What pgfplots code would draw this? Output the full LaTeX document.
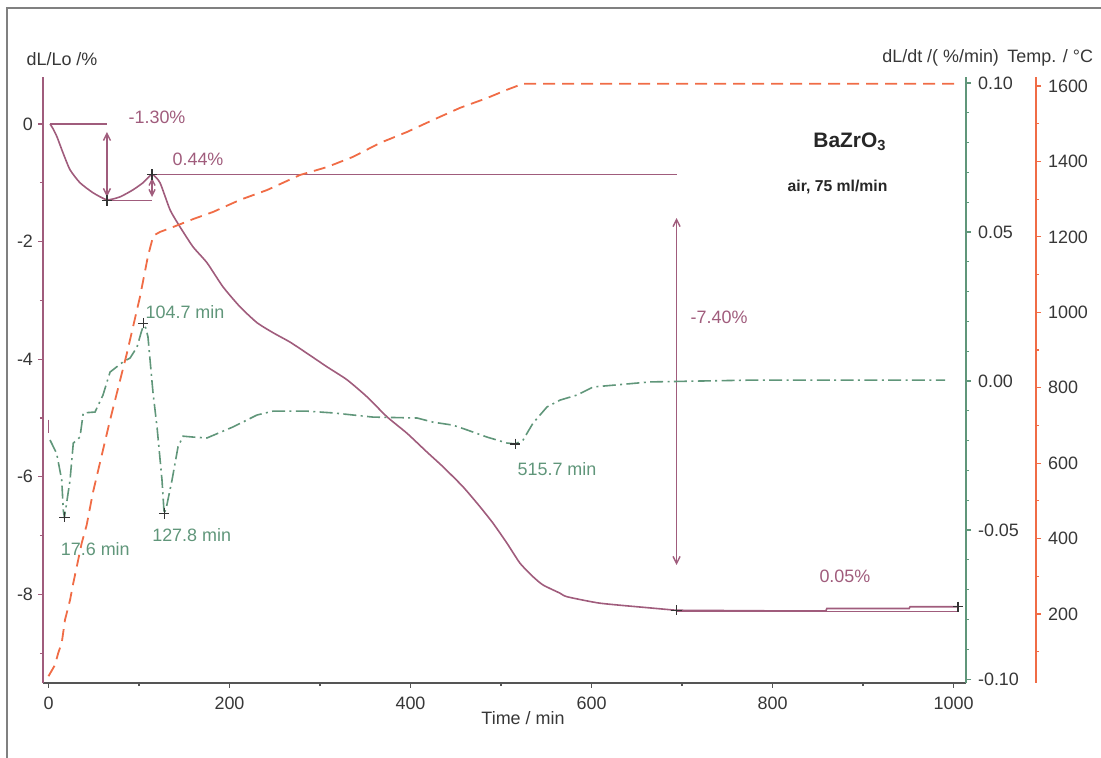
\documentclass[border=0pt]{standalone}
\usepackage{fontspec}
\setmainfont{Liberation Sans}
\usepackage{pgfplots}
\pgfplotsset{compat=1.18}
\usetikzlibrary{arrows.meta}

\definecolor{mauve}{RGB}{160,92,124}
\definecolor{dtgreen}{RGB}{96,150,122}
\definecolor{temporange}{RGB}{240,108,70}
\definecolor{axgray}{RGB}{85,85,85}
\definecolor{txt}{RGB}{55,55,55}

% pixel position of the reference -> picture coordinates (axis box lower left = pixel 43,683)
\newcommand{\px}[2]{({(#1-43)*0.5bp},{(683-#2)*0.5bp})}
\newcommand{\lbl}{\fontsize{9}{10}\selectfont}

\pgfplotstableread{
t v
1.7 0
5 -0.08
9.4 -0.22
16 -0.49
23.8 -0.78
34.8 -1.00
49.2 -1.17
64.6 -1.29
79 -1.24
93.4 -1.12
104.4 -1.00
114.4 -0.86
123.2 -1.00
134.3 -1.46
145.3 -1.75
159.7 -2.09
175.1 -2.36
192.8 -2.77
211.6 -3.11
230.4 -3.38
248.1 -3.55
266.9 -3.71
285.6 -3.90
307.7 -4.13
329.8 -4.35
351.9 -4.64
374 -4.98
396.1 -5.26
418.2 -5.58
435.9 -5.83
458 -6.17
476.8 -6.51
491.2 -6.79
506.6 -7.13
521 -7.47
535.4 -7.70
546.4 -7.84
565.2 -7.98
572.9 -8.04
609.4 -8.15
664.6 -8.23
693.4 -8.27
}\dltable

\pgfplotstableread{
t v
693.4 -8.27
799 -8.28
859 -8.28
860 -8.24
951 -8.24
952 -8.21
1005 -8.21
}\dltail

\pgfplotstableread{
t g
1.7 -0.0198
9 -0.0243
14.6 -0.0332
16.4 -0.0436
17.6 -0.0456
19.5 -0.0420
23.8 -0.0332
27.4 -0.0208
34.8 -0.0188
38.4 -0.0107
51.4 -0.0104
60.2 -0.0047
68 0.0030
82.3 0.0064
90.1 0.0077
97.8 0.0114
102.2 0.0161
104.7 0.0185
107.5 0.0178
109.9 0.0148
115.5 -0.0040
119.9 -0.0154
125.4 -0.0332
127.8 -0.0446
130.5 -0.0420
136.5 -0.0332
143.1 -0.0221
148.6 -0.0185
159.7 -0.0188
175.1 -0.0191
203.9 -0.0154
230.4 -0.0114
248.1 -0.0101
285.6 -0.0101
314.4 -0.0107
358.6 -0.0121
407.2 -0.0124
424.9 -0.0138
446.9 -0.0148
462.4 -0.0164
484.5 -0.0188
506.6 -0.0208
515.7 -0.0211
524.3 -0.0198
535.4 -0.0141
550.8 -0.0087
565.2 -0.0064
584 -0.0047
601.7 -0.0020
664.6 -0.0003
775.1 0.0003
990.6 0.0003
}\dttable

\pgfplotstableread{
t T
0 35
7.2 65
10.8 97
14.6 123
18.2 184
23.8 237
27.4 282
31.2 325
36.7 388
42.2 436
49 521
68 714
86.7 892
101 1040
110 1150
114.4 1190
115.8 1203
123.2 1213
137.6 1226
159.7 1247
181.8 1266
211.6 1298
241.4 1324
277.9 1364
307.7 1385
336.4 1412
366.3 1449
396.1 1478
424.9 1510
454.7 1542
484.5 1568
506.6 1590
524.3 1606
533 1606
1007 1606
}\temptable

\pgfplotsset{
  base/.style={
    scale only axis, height=303bp,
    at={(0,0)}, anchor=south west,
    tick align=outside,
    major tick length=2.5bp, minor tick length=1.6bp,
    tick label style={font=\lbl, text=txt},
    /pgf/number format/assume math mode=true,
    /pgf/number format/1000 sep={},
  },
}

\begin{document}
\begin{tikzpicture}
% dL/Lo axis
\begin{axis}[base, width=461.5bp,
  xmin=-6.08, xmax=1013.8,
  ymin=-9.507, ymax=0.799,
  axis x line*=bottom, axis y line*=left,
  xtick={0,200,...,1000}, minor xtick={100,300,...,900},
  ytick={-8,-6,...,0}, minor ytick={-9,-7,...,-1},
  x axis line style={axgray, line width=1bp, -},
  y axis line style={mauve, line width=1bp, -},
  xtick style={axgray, line width=0.6bp},
  ytick style={mauve, line width=0.6bp},
  xticklabel style={yshift=-1bp},
  yticklabel style={xshift=1bp},
]
\addplot[mauve, line width=0.8bp, smooth, tension=0.35] table[x=t, y=v] {\dltable};
\addplot[mauve, line width=0.8bp] table[x=t, y=v] {\dltail};
% step annotations
\addplot[mauve, line width=0.7bp] coordinates {(1.7,0) (64.6,0)};
\addplot[mauve, line width=0.7bp] coordinates {(64.6,-1.30) (114.4,-1.30)};
\addplot[mauve, line width=0.7bp] coordinates {(114.4,-0.86) (694,-0.86)};
\addplot[mauve, line width=0.7bp] coordinates {(694,-8.29) (1005,-8.29) (1005,-8.21)};
\addplot[mauve, line width=0.7bp] coordinates {(0,-5.03) (0,-5.26)};
\addplot[mauve, line width=0.7bp, {Straight Barb[length=3.5bp,width=3.5bp]}-{Straight Barb[length=3.5bp,width=3.5bp]}]
  coordinates {(64.6,-0.136) (64.6,-1.241)};
\addplot[mauve, line width=0.7bp, {Straight Barb[length=3bp,width=3bp]}-{Straight Barb[length=3bp,width=3bp]}]
  coordinates {(114.4,-0.918) (114.4,-1.241)};
\addplot[mauve, line width=0.7bp, {Straight Barb[length=3.5bp,width=3.5bp]}-{Straight Barb[length=3.5bp,width=3.5bp]}]
  coordinates {(694,-1.60) (694,-7.50)};
\addplot[only marks, mark=+, mark size=2.6bp, black!80, line width=0.6bp]
  coordinates {(64.6,-1.30) (114.4,-0.86) (694,-8.27) (1005,-8.21)};
\node[mauve, font=\lbl] at (axis cs:119.9,0.119) {-1.30\%};
\node[mauve, font=\lbl] at (axis cs:165.2,-0.595) {0.44\%};
\node[mauve, font=\lbl] at (axis cs:740.9,-3.282) {-7.40\%};
\node[mauve, font=\lbl] at (axis cs:880,-7.687) {0.05\%};
\node[dtgreen, font=\lbl] at (axis cs:150.8,-3.197) {104.7 min};
\node[dtgreen, font=\lbl] at (axis cs:51.7,-7.228) {17.6 min};
\node[dtgreen, font=\lbl] at (axis cs:158.2,-6.99) {127.8 min};
\node[dtgreen, font=\lbl] at (axis cs:561.9,-5.867) {515.7 min};
\node[anchor=west, inner sep=0pt, text=black!85, font=\fontsize{10.5}{12}\selectfont\bfseries]
  at (axis cs:844.8,-0.306) {BaZrO\textsubscript{3}};
\node[text=black!85, font=\fontsize{7.9}{9}\selectfont\bfseries]
  at (axis cs:871.8,-1.071) {air, 75 ml/min};
\end{axis}

% dL/dt axis
\begin{axis}[base, width=461.5bp,
  xmin=-6.08, xmax=1013.8,
  ymin=-0.1013, ymax=0.1020,
  hide x axis, axis y line*=right,
  ytick={-0.10,-0.05,0,0.05,0.10},
  minor ytick={-0.09,-0.08,-0.07,-0.06,-0.04,-0.03,-0.02,-0.01,0.01,0.02,0.03,0.04,0.06,0.07,0.08,0.09},
  y axis line style={dtgreen, line width=1bp, -},
  ytick style={dtgreen, line width=0.6bp},
  yticklabel style={/pgf/number format/.cd, fixed, fixed zerofill, precision=2},
]
\addplot[dtgreen, line width=0.8bp, dash pattern=on 6.5bp off 2.2bp on 1bp off 2.2bp]
  table[x=t, y=g] {\dttable};
\addplot[only marks, mark=+, mark size=2.6bp, black!80, line width=0.6bp]
  coordinates {(17.6,-0.0457) (104.7,0.0194) (127.8,-0.0444) (515.7,-0.0211)};
\end{axis}

% temperature axis
\begin{axis}[base, width=496.5bp,
  xmin=-6.08, xmax=1091.16,
  ymin=17, ymax=1623.9,
  hide x axis, axis y line*=right,
  ytick={200,400,...,1600}, minor ytick={100,300,...,1500},
  y axis line style={temporange, line width=1bp, -},
  ytick style={temporange, line width=0.6bp},
]
\addplot[temporange, line width=0.9bp, dash pattern=on 6bp off 3.5bp]
  table[x=t, y=T] {\temptable};
\end{axis}

\node[text=txt, font=\lbl] at \px{62}{59} {dL/Lo /\%};
\node[text=txt, font=\lbl, anchor=east] at \px{1006}{58} {dL/dt /( \%/min)};
\node[text=txt, font=\lbl, anchor=east] at \px{1100}{58} {Temp. / °C};
\node[text=txt, font=\lbl] at \px{523}{718} {Time / min};
\draw[black!50, line width=1bp] \px{7}{758} -- \px{7}{8} -- \px{1101}{8};

\pgfresetboundingbox
\path[use as bounding box] \px{0}{758} rectangle \px{1101}{0};
\end{tikzpicture}
\end{document}
